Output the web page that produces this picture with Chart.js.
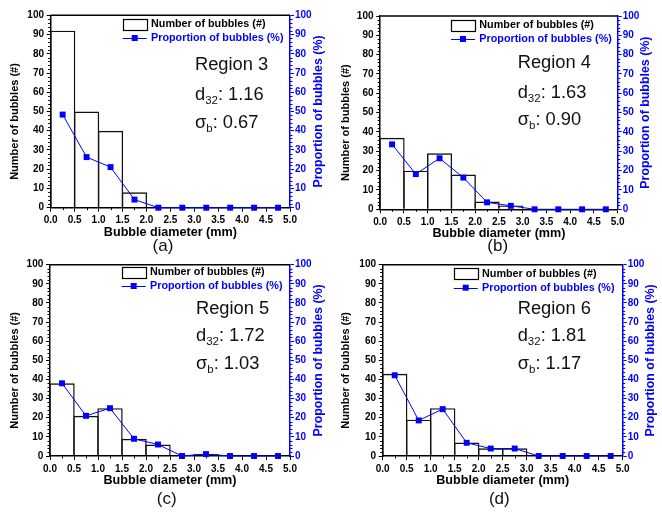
<!DOCTYPE html>
<html>
<head>
<meta charset="utf-8">
<script src="https://cdn.jsdelivr.net/npm/chart.js@4"></script>
<style>
  html, body { margin:0; padding:0; background:#fff; }
  body { width:662px; height:512px; position:relative; overflow:hidden; }
  .p { position:absolute; width:331px; height:256px; }
  canvas { display:block; }
</style>
</head>
<body>
<div class="p" style="left:0;top:0"><canvas id="c0" width="331" height="256"></canvas></div>
<div class="p" style="left:331px;top:0"><canvas id="c1" width="331" height="256"></canvas></div>
<div class="p" style="left:0;top:256px"><canvas id="c2" width="331" height="256"></canvas></div>
<div class="p" style="left:331px;top:256px"><canvas id="c3" width="331" height="256"></canvas></div>
<script>
// ---------------- DATA ----------------
const binCenters = [0.25, 0.75, 1.25, 1.75, 2.25, 2.75, 3.25, 3.75, 4.25, 4.75];
const regionNames = ['Region 3', 'Region 4', 'Region 5', 'Region 6'];
const d32Values = ['1.16', '1.63', '1.72', '1.81'];
const sigmaValues = ['0.67', '0.90', '1.03', '1.17'];
const panelLabels = ['(a)', '(b)', '(c)', '(d)'];
const countsR3 = [92, 50, 40, 8, 0, 0, 0, 0, 0, 0];
const propR3   = [48.4, 26.3, 21.1, 4.2, 0, 0, 0, 0, 0, 0];
const countsR4 = [37, 20, 29, 18, 4, 2, 0, 0, 0, 0];
const propR4   = [33.6, 18.2, 26.4, 16.4, 3.6, 1.8, 0, 0, 0, 0];
const countsR5 = [38, 21, 25, 9, 6, 0, 1, 0, 0, 0];
const propR5   = [38, 21, 25, 9, 6, 0, 1, 0, 0, 0];
const countsR6 = [43, 19, 25, 7, 4, 4, 0, 0, 0, 0];
const propR6   = [42.2, 18.6, 24.5, 6.9, 3.9, 3.9, 0, 0, 0, 0];
const countLabel = 'Number of bubbles (#)';
const propLabel = 'Proportion of bubbles (%)';
const xTitle = 'Bubble diameter (mm)';
const allCounts = [countsR3, countsR4, countsR5, countsR6];
const allProps = [propR3, propR4, propR5, propR6];

// ---------------- LAYOUT ----------------
const layouts = [
  {L:50.7, R:290,   T:15.3, B:207.7, legX:122.7, legY:24,   txtX:195,   txtY:[65, 95, 123.3],  labX:163,   labY:246},
  {L:49.2, R:286.7, T:16,   B:209.3, legX:120,   legY:25,   txtX:186.7, txtY:[63.3, 93.3, 120], labX:166.7, labY:246},
  {L:50,   R:290,   T:8.3,  B:200,   legX:121.7, legY:16,   txtX:196,   txtY:[53.3, 80, 108.3], labX:166.7, labY:243},
  {L:51.7, R:291.7, T:8.7,  B:200,   legX:122.7, legY:17.7, txtX:186.7, txtY:[53.3, 80, 108.3], labX:168.3, labY:243}
];
const FONT = "'Liberation Sans', Arial, Helvetica, sans-serif";
const BLUE = '#0000ff';
const W = 331, H = 256, XAXIS_H = 36;

Chart.defaults.font.family = FONT;

function px(v){ return Math.round(v) + 0.5; }

function makeDecor(i){
  const lay = layouts[i];
  return {
    id: 'decor' + i,
    afterDraw(chart){
      const ctx = chart.ctx;
      const a = chart.chartArea;
      const {x, y, y1} = chart.scales;
      ctx.save();
      // top border
      ctx.strokeStyle = '#000'; ctx.lineWidth = 1.5;
      ctx.beginPath(); ctx.moveTo(a.left, a.top); ctx.lineTo(a.right, a.top); ctx.stroke();
      // minor ticks
      ctx.lineWidth = 1;
      ctx.beginPath();
      for (let v = 0; v <= 100; v += 2) {
        if (v % 10 === 0) continue;
        const py = px(y.getPixelForValue(v));
        ctx.moveTo(a.left - 2.5, py); ctx.lineTo(a.left, py);
      }
      for (let v = 0.25; v < 5; v += 0.5) {
        const xx = px(x.getPixelForValue(v));
        ctx.moveTo(xx, a.bottom); ctx.lineTo(xx, a.bottom + 2.5);
      }
      ctx.stroke();
      ctx.strokeStyle = BLUE;
      ctx.beginPath();
      for (let v = 0; v <= 100; v += 2) {
        if (v % 10 === 0) continue;
        const py = px(y1.getPixelForValue(v));
        ctx.moveTo(a.right, py); ctx.lineTo(a.right + 2.5, py);
      }
      ctx.stroke();

      // y titles
      ctx.textAlign = 'center'; ctx.textBaseline = 'middle';
      ctx.save();
      ctx.translate(15, (a.top + a.bottom) / 2 + 10);
      ctx.rotate(-Math.PI / 2);
      ctx.fillStyle = '#000';
      ctx.font = `bold 11px ${FONT}`;
      ctx.fillText(countLabel, 0, 0);
      ctx.restore();
      ctx.save();
      ctx.translate(a.right + 28.3, (a.top + a.bottom) / 2);
      ctx.rotate(-Math.PI / 2);
      ctx.fillStyle = BLUE;
      ctx.font = `bold 12.4px ${FONT}`;
      ctx.fillText(propLabel, 0, 0);
      ctx.restore();

      // legend
      const ds = chart.data.datasets;
      const lx = lay.legX, ly = lay.legY;
      ctx.strokeStyle = '#000'; ctx.lineWidth = 1.2;
      ctx.strokeRect(px(lx), px(ly - 5.5), 24, 11);
      ctx.textAlign = 'left';
      ctx.font = `bold 10.8px ${FONT}`;
      ctx.fillStyle = '#000';
      ctx.fillText(ds[1].label, lx + 28.3, ly);
      const ly2 = ly + 14;
      ctx.strokeStyle = BLUE; ctx.lineWidth = 1;
      ctx.beginPath(); ctx.moveTo(lx, px(ly2)); ctx.lineTo(lx + 24, px(ly2)); ctx.stroke();
      ctx.fillStyle = BLUE;
      ctx.fillRect(lx + 12 - 3, ly2 - 3, 6, 6);
      ctx.fillText(ds[0].label, lx + 28.3, ly2);

      // region text
      ctx.fillStyle = '#111';
      const big = 18.3, small = 11.5;
      ctx.font = `${big}px ${FONT}`;
      ctx.fillText(regionNames[i], lay.txtX, lay.txtY[0]);
      function sub(main, s, rest, yy){
        let xx = lay.txtX;
        ctx.font = `${big}px ${FONT}`;
        ctx.fillText(main, xx, yy); xx += ctx.measureText(main).width;
        ctx.font = `${small}px ${FONT}`;
        ctx.fillText(s, xx, yy + 6); xx += ctx.measureText(s).width;
        ctx.font = `${big}px ${FONT}`;
        ctx.fillText(rest, xx, yy);
      }
      sub('d', '32', ': ' + d32Values[i], lay.txtY[1]);
      sub('σ', 'b', ': ' + sigmaValues[i], lay.txtY[2]);

      // panel label
      ctx.textAlign = 'center';
      ctx.fillStyle = '#111';
      ctx.font = `17px ${FONT}`;
      ctx.fillText(panelLabels[i], lay.labX, lay.labY);
      ctx.restore();
    }
  };
}

for (let i = 0; i < 4; i++) {
  const lay = layouts[i];
  const counts = allCounts[i], props = allProps[i];
  new Chart(document.getElementById('c' + i), {
    type: 'bar',
    data: {
      datasets: [
        {
          type: 'line',
          label: propLabel,
          data: binCenters.map((c, k) => ({x: c, y: props[k]})),
          yAxisID: 'y1',
          borderColor: BLUE,
          backgroundColor: BLUE,
          borderWidth: 1,
          pointStyle: 'rect',
          pointRadius: 4.2,
          pointBorderWidth: 0,
          tension: 0,
          clip: false,
          order: 0
        },
        {
          type: 'bar',
          label: countLabel,
          data: binCenters.map((c, k) => ({x: c, y: counts[k]})),
          yAxisID: 'y',
          backgroundColor: 'rgba(255,255,255,0)',
          borderColor: '#111',
          borderWidth: 1.4,
          inflateAmount: 0,
          barPercentage: 1.058,
          categoryPercentage: 1,
          order: 1
        }
      ]
    },
    options: {
      responsive: false,
      animation: false,
      devicePixelRatio: 1,
      layout: { padding: { left: 0, right: 0, top: lay.T, bottom: H - lay.B - XAXIS_H } },
      plugins: { legend: { display: false }, tooltip: { enabled: false } },
      scales: {
        x: {
          type: 'linear', min: 0, max: 5, offset: false,
          afterFit(s){ s.height = XAXIS_H; },
          ticks: { stepSize: 0.5, color: '#000', padding: 3, maxRotation: 0, autoSkip: false,
                   font: { size: 10, weight: 'bold' }, callback: v => Number(v).toFixed(1) },
          grid: { display: true, drawOnChartArea: false, drawTicks: true, tickLength: 4, tickColor: '#000', offset: false },
          border: { display: true, color: '#000', width: 1.5 },
          title: { display: true, text: xTitle, color: '#000', padding: { top: 0, bottom: 4 },
                   font: { size: 12.6, weight: 'bold' } }
        },
        y: {
          position: 'left', min: 0, max: 100,
          afterFit(s){ s.width = lay.L; },
          ticks: { stepSize: 10, color: '#000', padding: 2.7, font: { size: 10, weight: 'bold' } },
          grid: { display: true, drawOnChartArea: false, drawTicks: true, tickLength: 4, tickColor: '#000' },
          border: { display: true, color: '#000', width: 1.5 }
        },
        y1: {
          position: 'right', min: 0, max: 100,
          afterFit(s){ s.width = W - lay.R; },
          ticks: { stepSize: 10, color: BLUE, padding: 1, font: { size: 10, weight: 'bold' } },
          grid: { display: true, drawOnChartArea: false, drawTicks: true, tickLength: 4, tickColor: BLUE },
          border: { display: true, color: BLUE, width: 1.5 }
        }
      }
    },
    plugins: [makeDecor(i)]
  });
}
</script>
</body>
</html>
